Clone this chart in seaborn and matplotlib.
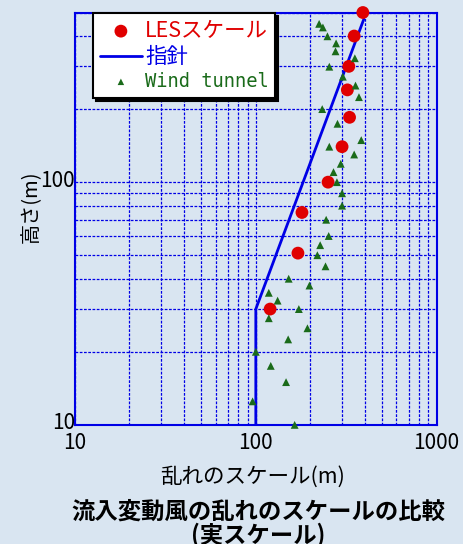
import matplotlib
matplotlib.use('Agg')
import matplotlib.pyplot as plt
import matplotlib.transforms as mtransforms
import seaborn as sns
from matplotlib.ticker import FuncFormatter, NullFormatter, LogLocator

# ---- data ----
les_scale = [391, 350, 327, 321, 330, 300, 251, 180, 171, 120]
les_height = [500, 400, 300, 240, 185, 140, 100, 75, 51, 30]

guide_scale = [100, 100, 396]
guide_height = [10, 30, 470]

wt_scale = [224, 235, 249, 278, 276, 353, 255, 303, 356, 372, 233, 283, 383,
            255, 350, 295, 269, 281, 300, 300, 245, 253, 227, 219, 243, 152,
            198, 118, 132, 173, 118, 193, 151, 100, 121, 147, 96, 164]
wt_height = [449, 434, 399, 373, 346, 324, 299, 272, 250, 224, 200, 174, 149,
             140, 130, 119, 110, 100, 90, 80, 70, 60, 55, 50, 45, 40,
             37.5, 35, 32.5, 30, 27.5, 25, 22.5, 20, 17.5, 15, 12.5, 10]

label_les = 'LESスケール'
label_guide = '指針'
label_wt = 'Wind tunnel'
xlabel = '乱れのスケール(m)'
ylabel = '高さ(m)'
title_lines = ['流入変動風の乱れのスケールの比較', '(実スケール)']

# ---- style ----
sns.set_theme(style='white')
plt.rcParams['font.family'] = ['Noto Sans CJK JP', 'DejaVu Sans']

bg = '#d9e5f1'
blue = '#0000e6'
red = '#e00000'
green = '#1a6b1a'

fig = plt.figure(figsize=(4.63, 5.44), dpi=100, facecolor=bg)
ax = fig.add_axes([0.162, 0.219, 0.781, 0.758])
ax.set_facecolor('none')
ax.set_xscale('log')
ax.set_yscale('log')
ax.set_xlim(10, 1000)
ax.set_ylim(10, 500)

ax.xaxis.set_major_locator(LogLocator(base=10))
ax.xaxis.set_minor_locator(LogLocator(base=10, subs=range(2, 10)))
ax.yaxis.set_major_locator(LogLocator(base=10))
ax.yaxis.set_minor_locator(LogLocator(base=10, subs=range(2, 10)))
fmt = FuncFormatter(lambda v, p: f'{v:g}')
ax.xaxis.set_major_formatter(fmt)
ax.yaxis.set_major_formatter(fmt)
ax.xaxis.set_minor_formatter(NullFormatter())
ax.yaxis.set_minor_formatter(NullFormatter())

ax.grid(True, which='both', color=blue, linestyle=(0, (2.2, 1.2)), linewidth=0.9)
ax.set_axisbelow(True)

for s in ax.spines.values():
    s.set_color(blue)
    s.set_linewidth(1.5)

ax.tick_params(axis='both', which='both', length=0, labelsize=15, colors='black')
ax.tick_params(axis='x', pad=5)
ax.tick_params(axis='y', pad=0)

# ---- marks ----
sns.lineplot(x=guide_scale, y=guide_height, sort=False, estimator=None,
             color=blue, linewidth=2.0, ax=ax, label=label_guide, zorder=3)
sns.scatterplot(x=les_scale, y=les_height, marker='o', color=red, s=85,
                edgecolor='none', ax=ax, label=label_les, zorder=4, clip_on=False)
sns.scatterplot(x=wt_scale, y=wt_height, marker='^', color=green, s=32,
                edgecolor='none', ax=ax, label=label_wt, zorder=4, clip_on=False)

handles, labels = ax.get_legend_handles_labels()
order = [labels.index(label_les), labels.index(label_guide), labels.index(label_wt)]
leg = ax.legend([handles[i] for i in order], [labels[i] for i in order],
                loc='upper left', bbox_to_anchor=(0.051, 0.998),
                fontsize=15.5, frameon=True, fancybox=False,
                shadow={'color': 'black', 'alpha': 1.0},
                borderpad=0.3, labelspacing=0.2, handlelength=1.95,
                handletextpad=0.15, borderaxespad=0)
leg.get_frame().set_edgecolor('black')
leg.get_frame().set_linewidth(1.5)
leg.get_frame().set_facecolor('white')
leg.get_frame().set_alpha(1.0)
for t, c in zip(leg.get_texts(), [red, blue, green]):
    t.set_color(c)
leg.get_texts()[2].set_family(['DejaVu Sans Mono'])
leg.get_texts()[2].set_fontsize(13.5)
hs = leg.legend_handles
try:
    hs[0].set_sizes([85])
    hs[2].set_sizes([22])
except Exception:
    pass

# ---- labels ----
ax.set_xlabel(xlabel, fontsize=15.5, color='black')
ax.xaxis.set_label_coords(0.49, -0.1)
ax.set_ylabel(ylabel, fontsize=14.5, color='black')
ax.yaxis.set_label_coords(-0.093, 0.53)

# raise y tick labels slightly, as in the reference
shift = mtransforms.ScaledTranslation(0, 4 / 100, fig.dpi_scale_trans)
for lab in ax.yaxis.get_majorticklabels():
    lab.set_transform(lab.get_transform() + shift)

fig.text(0.557, 0.037, '\n'.join(title_lines), ha='center', va='center',
         multialignment='center', linespacing=1.0, fontsize=16.8,
         fontweight='bold', color='black')

fig.savefig('out.png', dpi=100, facecolor=bg)
